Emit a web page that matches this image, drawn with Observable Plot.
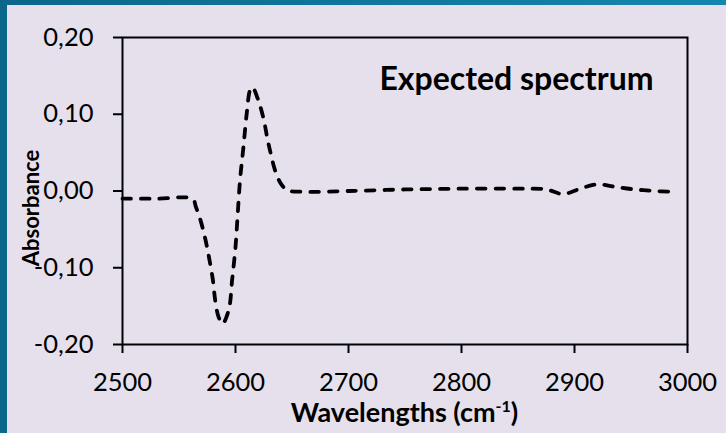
<!DOCTYPE html>
<html>
<head>
<meta charset="utf-8">
<script src="https://cdn.jsdelivr.net/npm/d3@7"></script>
<script src="https://cdn.jsdelivr.net/npm/@observablehq/plot@0.6"></script>
<style>
  body { margin: 0; }
  #wrap { width: 726px; height: 433px; position: relative; overflow: hidden;
          background: linear-gradient(to right, #0b678a, #1586ae); }
  #chart { position: absolute; left: 7px; top: 5px; width: 719px; height: 428px; background: #e5e0ec; }
</style>
</head>
<body>
<div id="wrap"><div id="chart"></div></div>
<script>
const wavelengths = [2500, 2530, 2562, 2565, 2569, 2573.5, 2577, 2580, 2582, 2585, 2588.5, 2594, 2597, 2600, 2602, 2604, 2607, 2610, 2613, 2615, 2620, 2625, 2628, 2631, 2635, 2640, 2646, 2660, 2700, 2750, 2800, 2850, 2875, 2890, 2905, 2920, 2935, 2950, 2970, 2987];
const absorbance = [-0.010, -0.010, -0.0105, -0.021, -0.038, -0.064, -0.090, -0.116, -0.142, -0.164, -0.173, -0.155, -0.116, -0.073, -0.029, 0.014, 0.057, 0.102, 0.132, 0.135, 0.119, 0.093, 0.070, 0.050, 0.027, 0.010, 0.001, -0.001, 0.000, 0.002, 0.003, 0.003, 0.002, -0.004, 0.003, 0.0087, 0.0056, 0.0026, 0.000, -0.001];
const xTicks = [2500, 2600, 2700, 2800, 2900, 3000];
const yTicks = [-0.2, -0.1, 0, 0.1, 0.2];
const titleText = "Expected spectrum";
const xLabel = "Wavelengths (cm";
const xLabelSup = "-1";
const yLabel = "Absorbance";

const data = wavelengths.map((w, i) => ({w, a: absorbance[i]}));
const fmt = d => d.toFixed(2).replace(".", ",");

const W = 719, H = 428;
const plot = Plot.plot({
  width: W, height: H,
  marginLeft: 115, marginRight: 39, marginTop: 32, marginBottom: 89,
  style: {background: "#e5e0ec", fontFamily: "Lato", fontSize: "25.5px", color: "#000", overflow: "visible"},
  x: {domain: [2500, 3000]},
  y: {domain: [-0.2, 0.2]},
  marks: [
    Plot.axisX({ticks: xTicks, tickSize: 9, tickPadding: 19, tickFormat: d => String(d), label: null, strokeWidth: 2}),
    Plot.axisY({ticks: yTicks, tickSize: 9, tickPadding: 20, tickFormat: fmt, label: null, strokeWidth: 2}),
    Plot.frame({stroke: "#000", strokeWidth: 2}),
    Plot.line(data, {x: "w", y: "a", curve: "catmull-rom", stroke: "#000", strokeWidth: 3.8,
      strokeDasharray: "8.5,10", strokeLinecap: "round"}),
    Plot.text([titleText], {text: d => d, frameAnchor: "top-right", dx: -34, dy: 42,
      textAnchor: "end", lineAnchor: "middle", fontWeight: "bold", fontSize: 32})
  ]
});
document.getElementById("chart").appendChild(plot);

const svg = d3.select(plot);
const xt = svg.append("text")
  .attr("x", (115 + (W - 39)) / 2).attr("y", 417)
  .attr("text-anchor", "middle").attr("font-weight", "bold").attr("font-size", 27)
  .attr("font-family", "Lato").attr("fill", "#000");
xt.append("tspan").text(xLabel);
xt.append("tspan").attr("font-size", 16).attr("dy", -10).text(xLabelSup);
xt.append("tspan").attr("dy", 10).text(")");

svg.append("text")
  .attr("transform", "translate(32,203) rotate(-90)")
  .attr("text-anchor", "middle").attr("font-weight", "bold").attr("font-size", 22)
  .attr("font-family", "Lato").attr("fill", "#000")
  .text(yLabel);
</script>
</body>
</html>
